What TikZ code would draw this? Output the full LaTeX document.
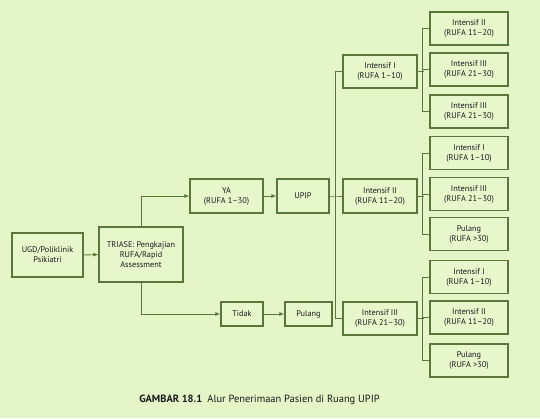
\documentclass[tikz,border=0pt]{standalone}
\usepackage{fontspec}
\setmainfont{PT Sans}
\usetikzlibrary{arrows.meta}
\definecolor{bgc}{RGB}{228,245,199}
\definecolor{boxfill}{RGB}{231,247,204}
\definecolor{linec}{RGB}{90,118,58}
\definecolor{txtc}{RGB}{25,25,25}
\tikzset{
  box/.style={draw=linec, fill=boxfill, line width=1.1bp, align=center, inner sep=1bp,
    font=\fontsize{8.3}{10}\selectfont, text=txtc},
  conn/.style={draw=linec, line width=0.9bp},
  arr/.style={conn, -{Latex[length=5bp,width=4bp]}},
}
\begin{document}
\begin{tikzpicture}[x=1bp,y=-1bp]
\fill[bgc] (0,0) rectangle (540,418);
\useasboundingbox (0,0) rectangle (540,418);
% left part
\node[box, minimum width=71bp, minimum height=44bp] (ugd) at (47.5,255) {UGD/Poliklinik\\Psikiatri};
\node[box, minimum width=84bp, minimum height=55bp] (triase) at (141,254.5) {TRIASE: Pengkajian\\RUFA/Rapid\\Assessment};
\node[box, minimum width=73bp, minimum height=34bp] (ya) at (226.5,196) {YA\\(RUFA 1--30)};
\node[box, minimum width=52bp, minimum height=34bp] (upip) at (303,196) {UPIP};
\node[box, minimum width=42bp, minimum height=24bp] (tidak) at (242,314) {Tidak};
\node[box, minimum width=47bp, minimum height=24bp] (pulang) at (308.5,314) {Pulang};
% middle column
\node[box, minimum width=74bp, minimum height=33bp] (m1) at (380,71.5) {Intensif I\\(RUFA 1--10)};
\node[box, minimum width=74bp, minimum height=34bp] (m2) at (380,196) {Intensif II\\(RUFA 11--20)};
\node[box, minimum width=74bp, minimum height=33bp] (m3) at (380,318.5) {Intensif III\\(RUFA 21--30)};
% right column
\node[box, minimum width=78bp, minimum height=33bp] (r1) at (469,28.5) {Intensif II\\(RUFA 11--20)};
\node[box, minimum width=78bp, minimum height=33bp] (r2) at (469,69.5) {Intensif III\\(RUFA 21--30)};
\node[box, minimum width=78bp, minimum height=33bp] (r3) at (469,111.5) {Intensif III\\(RUFA 21--30)};
\node[box, minimum width=78bp, minimum height=33bp] (r4) at (469,153) {Intensif I\\(RUFA 1--10)};
\node[box, minimum width=78bp, minimum height=33bp] (r5) at (469,194) {Intensif III\\(RUFA 21--30)};
\node[box, minimum width=78bp, minimum height=33bp] (r6) at (469,234) {Pulang\\(RUFA >30)};
\node[box, minimum width=78bp, minimum height=33bp] (r7) at (469,277) {Intensif I\\(RUFA 1--10)};
\node[box, minimum width=78bp, minimum height=33bp] (r8) at (469,317.5) {Intensif II\\(RUFA 11--20)};
\node[box, minimum width=78bp, minimum height=33bp] (r9) at (469,360.5) {Pulang\\(RUFA >30)};
% arrows
\draw[arr] (ugd.east) -- (triase.west);
\draw[arr] (triase.north) |- (ya.west);
\draw[arr] (ya.east) -- (upip.west);
\draw[arr] (triase.south) |- (tidak.west);
\draw[arr] (tidak.east) -- (pulang.west);
% main bus
\coordinate (b0) at (336,196);
\draw[conn] (upip.east) -- (b0) -- (m2.west);
\draw[conn] (m1.west) -- ++(-7,0) |- (m3.west);
% right buses
\draw[conn] (r1.west) -- ++(-7,0) |- (r3.west);
\draw[conn] (r2.west) -- ++(-7,0);
\draw[conn] (m1.east) -- ++(6,0);
\draw[conn] (r4.west) -- ++(-7,0) |- (r6.west);
\draw[conn] (r5.west) -- ++(-7,0);
\draw[conn] (m2.east) -- ++(6,0);
\draw[conn] (r7.west) -- ++(-7,0) |- (r9.west);
\draw[conn] (r8.west) -- ++(-7,0);
\draw[conn] (m3.east) -- ++(6,0);
% caption
\node[font=\fontsize{10.5}{12}\selectfont, text=txtc, anchor=center] (cap) at (259.5,400) {\textbf{GAMBAR 18.1}\enspace Alur Penerimaan Pasien di Ruang UPIP};
\end{tikzpicture}
\end{document}
